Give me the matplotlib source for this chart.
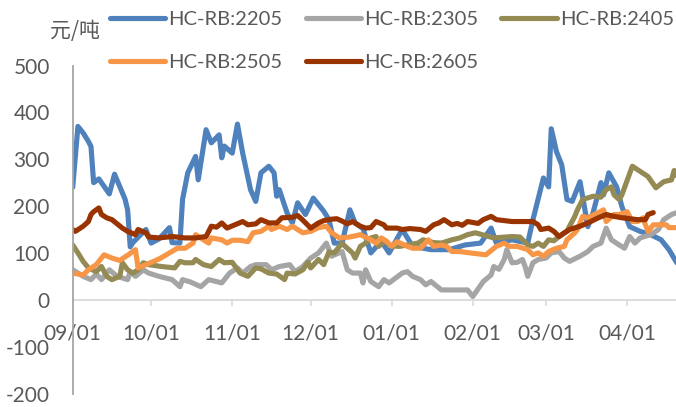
import matplotlib
matplotlib.use("Agg")
import matplotlib.pyplot as plt
import pandas as pd

plt.rcParams["axes.unicode_minus"] = False

start = pd.Timestamp("2021-09-01")

# day offsets from 2021-09-01 and spread values (元/吨)
hc2205_day = [0, 2, 4, 6, 7, 8, 10, 14, 16, 20, 21, 22, 23, 26, 28, 30, 33, 37, 38, 41, 42, 44, 47, 48, 51, 53, 56, 57, 58,
              61, 63, 65, 68, 70, 72, 75, 77, 78, 79, 82, 84, 86, 89, 92, 96, 98, 100, 103, 106, 108, 111, 114, 118, 121,
              126, 130, 137, 144, 150, 156, 160, 162, 168, 174, 176, 180, 182, 183, 185, 187, 189, 191, 194, 197, 199,
              202, 203, 205, 208, 210, 213, 217, 221, 225, 228, 231]
hc2205_val = [240, 370, 356, 338, 327, 250, 258, 226, 268, 215, 192, 113, 122, 139, 150, 121, 130, 154, 122, 121, 214, 271,
              306, 256, 363, 335, 352, 303, 328, 313, 375, 313, 235, 210, 271, 285, 271, 221, 235, 185, 164, 207, 182, 217,
              189, 171, 121, 121, 192, 164, 152, 100, 125, 100, 150, 114, 107, 107, 117, 121, 153, 121, 128, 121, 171, 260,
              241, 365, 316, 288, 214, 210, 252, 156, 186, 250, 224, 271, 241, 199, 156, 146, 139, 128, 107, 79]

hc2305_day = [0, 4, 7, 9, 11, 14, 17, 21, 22, 24, 27, 29, 33, 38, 41, 42, 45, 49, 52, 57, 60, 63, 65, 68, 70, 74, 76, 79,
              83, 85, 88, 91, 94, 97, 99, 103, 105, 107, 110, 111, 112, 114, 117, 119, 121, 126, 128, 130, 133, 135, 137,
              141, 151, 153, 157, 160, 161, 163, 165, 166, 168, 170, 172, 173, 174, 176, 178, 181, 183, 186, 188, 190, 194,
              197, 199, 202, 204, 206, 209, 211, 213, 215, 217, 221, 224, 226, 229, 231]
hc2305_val = [64, 50, 43, 55, 43, 64, 50, 43, 60, 50, 64, 57, 50, 43, 28, 43, 38, 28, 43, 36, 57, 68, 57, 71, 75, 75, 64, 71,
              75, 60, 71, 89, 100, 121, 93, 103, 64, 57, 57, 36, 64, 39, 28, 43, 36, 57, 60, 50, 43, 32, 39, 21, 21, 7, 39,
              53, 71, 65, 86, 107, 79, 80, 86, 71, 50, 79, 86, 89, 100, 103, 89, 82, 93, 103, 114, 121, 153, 128, 117, 110,
              135, 121, 132, 139, 150, 171, 182, 186]

hc2405_day = [0, 2, 4, 6, 9, 11, 13, 15, 18, 19, 21, 23, 25, 27, 29, 34, 39, 41, 43, 46, 47, 50, 53, 56, 58, 61, 64, 67,
              70, 72, 75, 78, 81, 82, 85, 88, 90, 91, 94, 96, 98, 100, 103, 104, 107, 108, 110, 112, 114, 116, 117, 119,
              122, 125, 132, 134, 138, 141, 145, 148, 151, 154, 161, 168, 171, 174, 176, 178, 180, 182, 184, 186, 189, 190,
              192, 193, 195, 199, 202, 204, 206, 207, 209, 210, 214, 217, 220, 223, 226, 229, 230, 231]
hc2405_val = [117, 100, 82, 68, 60, 71, 50, 43, 50, 79, 64, 57, 64, 79, 75, 71, 68, 82, 79, 79, 86, 75, 71, 86, 79, 80, 57,
              50, 68, 66, 57, 55, 43, 57, 55, 64, 80, 68, 86, 75, 102, 100, 121, 115, 100, 89, 114, 121, 132, 135, 114, 124,
              115, 114, 121, 128, 122, 121, 128, 132, 139, 143, 132, 135, 134, 117, 114, 121, 114, 128, 126, 135, 146, 157,
              178, 192, 214, 221, 219, 235, 241, 224, 214, 224, 285, 274, 263, 239, 252, 256, 276, 265]

hc2505_day = [0, 4, 6, 9, 12, 15, 18, 21, 24, 25, 28, 33, 37, 40, 43, 46, 47, 50, 52, 53, 57, 59, 61, 64, 67, 69, 72, 75,
              76, 79, 82, 84, 88, 91, 94, 97, 99, 102, 106, 110, 114, 116, 118, 120, 122, 124, 128, 130, 133, 136, 138,
              141, 143, 145, 148, 152, 158, 162, 165, 167, 170, 174, 176, 178, 180, 182, 185, 188, 189, 192, 193, 195, 197,
              201, 203, 204, 207, 209, 212, 214, 216, 218, 220, 222, 224, 227, 228, 231]
hc2505_val = [57, 53, 64, 75, 96, 89, 84, 95, 107, 68, 75, 87, 100, 110, 110, 121, 139, 128, 121, 132, 128, 121, 127, 127,
              124, 143, 146, 157, 150, 157, 150, 157, 143, 146, 154, 157, 143, 132, 134, 139, 128, 121, 132, 125, 114, 124,
              114, 110, 110, 128, 114, 117, 114, 103, 103, 100, 96, 114, 121, 114, 114, 107, 96, 100, 93, 103, 110, 114,
              128, 143, 150, 178, 175, 186, 192, 167, 182, 182, 188, 167, 167, 175, 146, 160, 160, 160, 154, 154]

hc2605_day = [0, 1, 4, 6, 7, 8, 10, 11, 13, 15, 17, 19, 21, 24, 25, 27, 28, 29, 33, 38, 43, 47, 51, 53, 55, 57, 59, 62,
              65, 67, 70, 72, 75, 78, 80, 84, 86, 88, 91, 94, 96, 99, 101, 103, 105, 107, 110, 112, 114, 116, 119, 120,
              124, 126, 129, 133, 135, 138, 140, 142, 145, 147, 149, 151, 155, 157, 160, 162, 168, 176, 178, 179, 182, 184,
              186, 188, 190, 194, 197, 201, 204, 207, 210, 216, 219, 220, 222]
hc2605_val = [150, 146, 157, 167, 182, 188, 196, 182, 175, 171, 162, 153, 146, 139, 150, 145, 143, 134, 132, 135, 132, 132,
              135, 157, 155, 164, 153, 160, 167, 160, 162, 171, 164, 164, 175, 176, 180, 170, 153, 164, 169, 172, 173, 168,
              162, 167, 157, 153, 154, 167, 160, 153, 153, 150, 152, 150, 146, 160, 164, 171, 160, 163, 159, 167, 163, 171,
              178, 171, 167, 167, 160, 150, 153, 146, 135, 143, 150, 157, 164, 175, 182, 178, 175, 171, 171, 182, 186]

series_names = ["HC-RB:2205", "HC-RB:2305", "HC-RB:2405", "HC-RB:2505", "HC-RB:2605"]
series_days = [hc2205_day, hc2305_day, hc2405_day, hc2505_day, hc2605_day]
series_vals = [hc2205_val, hc2305_val, hc2405_val, hc2505_val, hc2605_val]
colors = ["#4f81bd", "#a5a5a5", "#948a54", "#f79646", "#993300"]

y_ticks = [-200, -100, 0, 100, 200, 300, 400, 500]
x_tick_dates = ["2021-09-01", "2021-10-01", "2021-11-01", "2021-12-01",
                "2022-01-01", "2022-02-01", "2022-03-01", "2022-04-01"]
x_tick_labels = ["09/01", "10/01", "11/01", "12/01", "01/01", "02/01", "03/01", "04/01"]

W, H = 676, 407
fig = plt.figure(figsize=(W / 100, H / 100), dpi=100)
left_px, top_px, bottom_px = 72.7, 65.5, 393.5
ax = fig.add_axes([left_px / W, (H - bottom_px) / H, 1 - left_px / W, (bottom_px - top_px) / H])

handles = []
for name, d, v, c in zip(series_names, series_days, series_vals, colors):
    dates = start + pd.to_timedelta(d, unit="D")
    ln, = ax.plot(dates, v, color=c, lw=3.7, solid_joinstyle="round", solid_capstyle="round", label=name)
    handles.append(ln)

ax.set_ylim(-200, 500)
ax.set_yticks(y_ticks)
ax.set_xlim(start, start + pd.Timedelta(days=230.7))
ax.set_xticks(pd.to_datetime(x_tick_dates))
ax.set_xticklabels(x_tick_labels)

for s in ["top", "right"]:
    ax.spines[s].set_visible(False)
ax.spines["left"].set_color("#a6a6a6")
ax.spines["left"].set_linewidth(1.3)
ax.spines["bottom"].set_position(("data", 0))
ax.spines["bottom"].set_color("#d9d9d9")
ax.spines["bottom"].set_linewidth(1.3)
ax.spines["bottom"].set_zorder(0.5)

tick_font = "Lato"
fs_tick = 15
fs_leg = 14.5
ax.tick_params(axis="x", direction="out", length=4.5, width=1.1, color="#d9d9d9", pad=12.5,
               labelsize=fs_tick, labelcolor="#595959")
ax.tick_params(axis="y", length=0, pad=16.5, labelsize=fs_tick, labelcolor="#595959")
for lab in ax.get_xticklabels() + ax.get_yticklabels():
    lab.set_fontfamily(tick_font)

# legend in row-major order: 2205 2305 2405 / 2505 2605
order = [0, 3, 1, 4, 2]
leg = fig.legend([handles[i] for i in order], [series_names[i] for i in order],
                 loc="upper left", bbox_to_anchor=(110 / W, 1 - 11 / H), ncol=3, frameon=False,
                 prop={"family": tick_font, "size": fs_leg}, handlelength=2.75, handletextpad=0.15,
                 columnspacing=1.15, labelspacing=1.3, borderpad=0, borderaxespad=0)
for t in leg.get_texts():
    t.set_color("#595959")

fig.text(75 / W, 1 - 31 / H, "元/吨", ha="center", va="center", fontsize=15, color="#595959",
         family=["Noto Sans CJK SC", "DejaVu Sans"])

fig.savefig("out.png", dpi=100)
